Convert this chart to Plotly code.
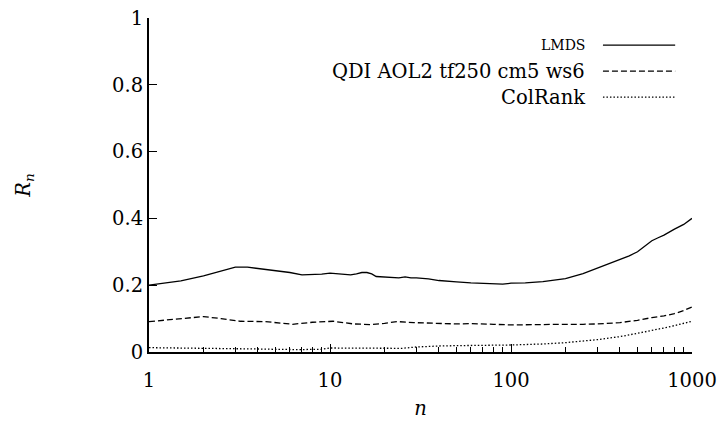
import plotly.graph_objects as go

# ---- data ----
lmds_n = [1, 1.5, 2, 2.5, 3, 3.5, 4, 5, 6, 7, 8, 9, 10, 11, 12, 13, 14, 15, 16, 17, 18, 20, 22, 24,
          26, 28, 30, 35, 40, 45, 50, 60, 70, 80, 90, 100, 120, 150, 170, 200, 250, 300, 350, 400,
          450, 500, 550, 600, 650, 700, 800, 900, 1000]
lmds_r = [0.200, 0.213, 0.228, 0.243, 0.254, 0.254, 0.250, 0.243, 0.238, 0.231, 0.231, 0.233, 0.236,
          0.234, 0.232, 0.231, 0.234, 0.238, 0.238, 0.234, 0.226, 0.225, 0.224, 0.222, 0.225, 0.222,
          0.222, 0.219, 0.214, 0.213, 0.210, 0.207, 0.205, 0.204, 0.203, 0.206, 0.207, 0.211, 0.214,
          0.220, 0.235, 0.251, 0.264, 0.277, 0.288, 0.300, 0.316, 0.333, 0.342, 0.350, 0.368, 0.382,
          0.400]

qdi_n = [1, 1.5, 2, 2.5, 3.2, 4.4, 6.2, 8, 10.4, 13.5, 17, 20, 23.5, 29, 40, 50, 60, 70, 80, 100,
         120, 150, 200, 250, 300, 400, 500, 600, 700, 800, 900, 1000]
qdi_r = [0.091, 0.100, 0.106, 0.100, 0.092, 0.091, 0.083, 0.089, 0.092, 0.084, 0.082, 0.086, 0.091,
         0.088, 0.085, 0.084, 0.085, 0.085, 0.083, 0.081, 0.082, 0.083, 0.083, 0.083, 0.084, 0.088,
         0.095, 0.103, 0.108, 0.115, 0.124, 0.135]

col_n = [1, 2, 3, 4, 5, 6, 7, 8, 9, 10, 15, 20, 25, 30, 35, 40, 50, 70, 100, 150, 200, 300, 400,
         500, 600, 700, 800, 1000]
col_r = [0.013, 0.012, 0.011, 0.009, 0.008, 0.007, 0.007, 0.008, 0.008, 0.012, 0.012, 0.011, 0.011,
         0.015, 0.017, 0.018, 0.019, 0.019, 0.021, 0.024, 0.028, 0.037, 0.046, 0.056, 0.064, 0.072,
         0.079, 0.092]

series_names = ["LMDS", "QDI AOL2 tf250 cm5 ws6", "ColRank"]
x_ticks = [1, 10, 100, 1000]
x_minor = [m * d for d in (1, 10, 100) for m in range(2, 10)]
y_ticks = [0, 0.2, 0.4, 0.6, 0.8, 1]
y_labels = ["0", "0.2", "0.4", "0.6", "0.8", "1"]

FONT = "DejaVu Serif"
FS = 19.5
styles = [("solid", 14), ("6px,3px", FS), ("1.5px,2px", FS)]

fig = go.Figure()
for (xs, ys), name, (dash, _) in zip([(lmds_n, lmds_r), (qdi_n, qdi_r), (col_n, col_r)],
                                     series_names, styles):
    fig.add_trace(go.Scatter(x=xs, y=ys, mode="lines", name=name,
                             line=dict(color="black", width=1.3, dash=dash), showlegend=False))

# manual legend (text right-aligned, sample to the right)
leg_y = [0.919, 0.841, 0.763]
for name, (dash, fs), yy in zip(series_names, styles, leg_y):
    fig.add_annotation(xref="paper", yref="paper", x=0.806, y=yy, text=name, showarrow=False,
                       xanchor="right", yanchor="middle", font=dict(family=FONT, size=fs, color="black"))
    fig.add_shape(type="line", xref="paper", yref="paper", x0=0.836, x1=0.969, y0=yy, y1=yy,
                  line=dict(color="black", width=1.3, dash=dash))

fig.update_layout(
    width=719, height=428,
    margin=dict(l=149, r=27, t=18, b=76),
    paper_bgcolor="white", plot_bgcolor="white",
    font=dict(family=FONT, size=FS, color="black"),
    xaxis=dict(type="log", range=[0, 3], tickvals=x_ticks, ticktext=[str(v) for v in x_ticks],
               automargin=False, ticklabelstandoff=10,
               ticks="inside", ticklen=8, tickwidth=1.3, tickcolor="black",
               minor=dict(ticks="inside", ticklen=5, tickwidth=1, tickcolor="black", tickvals=x_minor),
               showline=True, linecolor="black", linewidth=2, showgrid=False, zeroline=False,
               title=dict(text="<i>n</i>", standoff=10, font=dict(size=FS))),
    yaxis=dict(range=[0, 1], tickvals=y_ticks, ticktext=y_labels, automargin=False,
               ticks="inside", ticklen=8, tickwidth=1.3, tickcolor="black",
               showline=True, linecolor="black", linewidth=2, showgrid=False, zeroline=False,
               title=dict(text="<i>R</i><sub><i>n</i></sub>", standoff=76, font=dict(size=FS))),
)

fig.write_html("out.html")
